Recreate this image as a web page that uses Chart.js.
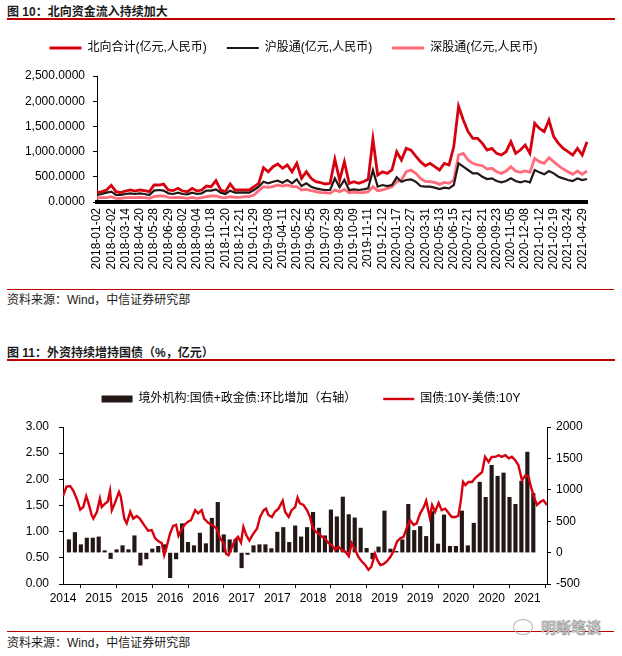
<!DOCTYPE html>
<html lang="zh-CN">
<head>
<meta charset="utf-8">
<title>北向资金与外资持债</title>
<script src="https://cdn.jsdelivr.net/npm/chart.js@4.4.1/dist/chart.umd.min.js"></script>
<style>
  body { margin: 0; background: #fff; }
  .page { position: relative; width: 622px; height: 656px; overflow: hidden;
          font-family: 'Liberation Sans', 'Noto Sans CJK SC', sans-serif; color: #1a1a1a; }
  .page canvas { position: absolute; left: 0; }
  .fig-title { position: absolute; left: 7px; font-size: 12px; font-weight: bold; line-height: 14px; }
  .fig-rule { position: absolute; left: 7px; width: 608px; height: 2px; background: #c00000; }
  .src-rule { position: absolute; left: 7px; width: 607px; height: 1px; background: #c00000; }
  .src { position: absolute; left: 7px; font-size: 12px; line-height: 14px; }
  .mark { position: absolute; left: 513px; top: 619px; font-size: 15px; font-weight: bold; line-height: 18px;
          color: #d0d0d0; -webkit-text-stroke: 0.5px #8a8a8a; white-space: nowrap; }
  .mark-icon { display: inline-block; width: 18px; height: 14px; margin-right: 8px; vertical-align: -2px;
               border: 1.5px solid #b5b5b5; border-radius: 50%; }
</style>
</head>
<body>
<div class="page">
  <div class="fig-title" style="top:5px">图 10：北向资金流入持续加大</div>
  <div class="fig-rule" style="top:18px"></div>
  <canvas id="flowChart" width="622" height="250" style="top:22px"></canvas>
  <div class="src-rule" style="top:289px"></div>
  <div class="src" style="top:293px">资料来源：Wind，中信证券研究部</div>

  <div class="fig-title" style="top:346px">图 11：外资持续增持国债（%，亿元）</div>
  <div class="fig-rule" style="top:359px"></div>
  <canvas id="bondChart" width="622" height="244" style="top:366px"></canvas>
  <div class="src-rule" style="top:631px"></div>
  <div class="src" style="top:636px">资料来源：Wind，中信证券研究部</div>
  <div class="mark"><span class="mark-icon"></span>明晰笔谈</div>
</div>

<script>
// ---- 图10 data: one point about every 7 trading days, labels every 3rd point ----
const flowDates = [
  '2018-01-02', '2018-02-02', '2018-03-14', '2018-04-20', '2018-05-28', '2018-06-29',
  '2018-08-02', '2018-09-04', '2018-10-18', '2018-11-20', '2018-12-21', '2019-01-29',
  '2019-03-08', '2019-04-11', '2019-05-22', '2019-06-25', '2019-07-29', '2019-08-29',
  '2019-10-09', '2019-11-11', '2019-12-12', '2020-01-17', '2020-02-27', '2020-03-31',
  '2020-05-13', '2020-06-15', '2020-07-21', '2020-08-21', '2020-09-23', '2020-11-05',
  '2020-12-08', '2021-01-12', '2021-02-19', '2021-03-24', '2021-04-29'
];

const northTotal = [
  185, 205, 238, 330, 205, 185, 218, 238, 218, 238,
  225, 205, 337, 337, 357, 238, 225, 271, 218, 205,
  271, 218, 238, 317, 304, 423, 238, 205, 357, 238,
  238, 238, 238, 304, 370, 680, 600, 700, 754, 668,
  734, 600, 767, 469, 600, 469, 403, 383, 357, 370,
  850, 436, 800, 370, 403, 370, 403, 449, 1250, 535,
  600, 568, 635, 998, 833, 1064, 1030, 912, 800, 720,
  767, 700, 635, 767, 734, 1100, 1900, 1626, 1395, 1262,
  1262, 1163, 1031, 1064, 965, 932, 998, 1196, 965, 1031,
  1130, 965, 1560, 1461, 1395, 1626, 1296, 1163, 1064, 998,
  932, 1064, 932, 1196
];

const shanghaiConnect = [
  139, 159, 185, 205, 139, 139, 159, 172, 159, 172,
  159, 139, 225, 238, 225, 172, 159, 185, 159, 152,
  185, 159, 172, 225, 225, 251, 185, 159, 225, 185,
  185, 185, 185, 238, 304, 403, 370, 403, 423, 383,
  436, 370, 449, 317, 370, 304, 271, 251, 238, 238,
  469, 291, 440, 238, 251, 238, 251, 271, 630, 304,
  337, 317, 337, 490, 403, 436, 449, 403, 317, 304,
  304, 284, 258, 284, 271, 337, 767, 700, 635, 568,
  568, 502, 456, 469, 416, 390, 416, 469, 416, 390,
  416, 390, 635, 588, 549, 615, 568, 502, 469, 436,
  416, 469, 436, 456
];

const shenzhenConnect = [
  80, 85, 86, 106, 73, 73, 86, 86, 86, 93,
  86, 73, 106, 119, 119, 93, 86, 93, 86, 73,
  93, 73, 86, 106, 119, 119, 93, 86, 106, 93,
  93, 106, 106, 139, 225, 304, 291, 304, 337, 317,
  337, 304, 304, 238, 251, 225, 205, 185, 185, 172,
  238, 205, 250, 185, 198, 185, 185, 205, 304, 225,
  238, 271, 304, 403, 436, 600, 635, 568, 469, 410,
  403, 390, 350, 390, 370, 436, 932, 965, 833, 767,
  734, 720, 654, 668, 601, 568, 615, 700, 615, 588,
  615, 588, 866, 800, 767, 879, 800, 720, 654, 601,
  549, 615, 549, 615
];

// ---- 图11 data ----
const yearTicks = ['2014', '2015', '2015', '2016', '2016', '2017', '2017',
                   '2018', '2018', '2019', '2019', '2020', '2020', '2021'];

// monthly change, 亿元, starting Feb 2014
const holdingChange = [
  205, 320, 126, 232, 232, 250, 30, -95, 47, 110,
  47, 268, -200, -100, 58, 100, 126, -400, -100, 460,
  163, 110, 310, 142, 547, 800, 284, 205, 215, -242,
  -30, 110, 126, 126, 63, 326, 400, 163, 426, 250,
  400, 642, 390, 268, 680, 570, 885, 605, 553, 390,
  68, -100, 90, 663, 58, 20, 205, 768, 353, 416,
  258, 653, 137, 600, 100, 100, 663, 110, 468, 1121,
  880, 1390, 1216, 1268, 880, 768, 1137, 1600, 942
];

// months since Jan 2014
const spreadMonth = [
  0, 0.6, 1.2, 1.7, 2.3, 2.9, 3.4, 3.9, 4.3, 4.8,
  5.1, 5.7, 6.2, 6.5, 7.1, 7.5, 7.9, 8.2, 8.7, 9.4,
  9.7, 10.3, 10.7, 11.3, 11.8, 12.4, 12.9, 13.6, 14.3, 14.9,
  15.5, 16.0, 16.6, 17.0, 17.3, 18.0, 18.5, 19.0, 19.4, 19.9,
  20.4, 21.0, 21.5, 22.2, 22.7, 23.3, 23.7, 24.4, 25.0, 25.8,
  26.4, 27.0, 27.4, 27.8, 28.4, 28.9, 29.4, 29.9, 30.3, 30.8,
  31.3, 31.9, 32.6, 33.1, 33.7, 34.1, 34.5, 35.1, 35.6, 36.2,
  36.9, 37.3, 37.9, 38.4, 39.0, 39.4, 39.8, 40.4, 41.0, 41.5,
  41.9, 42.4, 42.9, 43.5, 44.0, 44.6, 45.2, 45.7, 46.3, 46.8,
  47.4, 48.0, 48.5, 49.1, 49.6, 50.2, 50.8, 51.3, 51.8, 52.4,
  52.8, 53.3, 53.8, 54.4, 55.0, 55.5, 56.1, 56.6, 57.2, 57.8,
  58.3, 58.9, 59.4, 60.0, 60.6, 61.0, 61.6, 62.0, 62.5, 63.1,
  63.6, 64.2, 64.8, 65.3, 65.9, 66.4, 66.8, 67.2, 67.6, 68.1,
  68.7, 69.2, 69.8, 70.4, 70.9, 71.5, 72.0, 72.6, 73.2, 73.7,
  74.3, 74.9, 75.4, 76.0, 76.5, 77.1, 77.7, 78.2, 78.6, 79.1,
  79.6, 80.2, 80.7, 81.3
];

// 国债10Y - 美债10Y, %
const spreadValue = [
  1.68, 1.86, 1.87, 1.79, 1.63, 1.42, 1.47, 1.68, 1.54, 1.32,
  1.25, 1.38, 1.63, 1.47, 1.54, 1.57, 1.78, 1.41, 1.54, 1.76,
  1.67, 1.25, 1.16, 1.38, 1.25, 1.30, 1.25, 1.13, 1.02, 1.03,
  0.87, 0.82, 0.78, 0.55, 0.66, 0.97, 1.11, 1.13, 0.92, 1.04,
  1.13, 1.19, 1.22, 1.41, 1.35, 1.41, 1.25, 1.17, 1.13, 1.06,
  0.87, 0.78, 0.58, 0.55, 0.71, 0.84, 0.90, 0.79, 1.09, 0.93,
  0.83, 0.95, 1.06, 1.28, 1.41, 1.44, 1.32, 1.28, 1.38, 1.44,
  1.59, 1.38, 1.28, 1.41, 1.47, 1.65, 1.54, 1.51, 1.41, 1.28,
  1.09, 1.00, 0.97, 0.90, 0.87, 0.78, 0.74, 0.65, 0.71, 0.65,
  0.62, 0.53, 0.78, 0.65, 0.52, 0.43, 0.36, 0.27, 0.33, 0.58,
  0.46, 0.36, 0.38, 0.43, 0.52, 0.62, 0.81, 0.87, 0.90, 1.09,
  1.22, 1.13, 1.16, 1.35, 1.47, 1.59, 1.28, 1.51, 1.38, 1.55,
  1.41, 1.44, 1.35, 1.28, 1.28, 1.30, 1.57, 1.95, 1.89, 1.95,
  1.95, 2.02, 2.08, 2.14, 2.43, 2.33, 2.43, 2.43, 2.46, 2.43,
  2.46, 2.40, 2.43, 2.36, 2.27, 1.98, 2.08, 2.05, 1.86, 1.67,
  1.51, 1.57, 1.60, 1.51
];

Chart.defaults.font.family = "'Liberation Sans', 'Noto Sans CJK SC', sans-serif";
Chart.defaults.font.size = 12;
Chart.defaults.color = '#000';

// push the plot down a bit from the legend (legend has no margin option)
const legendGap = (gap) => ({
  id: 'legendGap',
  beforeInit(chart) {
    const origFit = chart.legend.fit;
    chart.legend.fit = function fit() {
      origFit.bind(chart.legend)();
      this.height += gap;
    };
  }
});

const byIndex = (a, b) => a.datasetIndex - b.datasetIndex;

// ---------- 图10 ----------
const flowLabels = northTotal.map((_, i) => (i % 3 === 0 ? flowDates[i / 3] || '' : ''));

const lineSeries = (label, data, color, width, order) => ({
  label: label,
  data: data,
  borderColor: color,
  backgroundColor: color,
  borderWidth: width,
  pointRadius: 0,
  pointStyle: 'line',
  tension: 0,
  order: order,
});

new Chart(document.getElementById('flowChart'), {
  type: 'line',
  data: {
    labels: flowLabels,
    datasets: [
      lineSeries('北向合计(亿元,人民币)', northTotal, '#d7000f', 2.8, 1),
      lineSeries('沪股通(亿元,人民币)', shanghaiConnect, '#231815', 2.2, 0),
      lineSeries('深股通(亿元,人民币)', shenzhenConnect, '#ff6b7b', 2.8, 2),
    ],
  },
  options: {
    responsive: false,
    animation: false,
    layout: { padding: { left: 0, right: 35, top: 0, bottom: 0 } },
    plugins: {
      legend: {
        labels: { usePointStyle: true, pointStyleWidth: 32, padding: 20, sort: byIndex },
      },
      tooltip: { enabled: false },
    },
    scales: {
      x: {
        grid: { display: false, drawTicks: false },
        border: { display: true, color: '#000', width: 4 },
        ticks: { autoSkip: false, maxRotation: 90, minRotation: 90, padding: 6 },
        afterFit: (scale) => { scale.height = 70; },
      },
      y: {
        min: 0,
        max: 2500,
        grid: { drawOnChartArea: false, tickLength: 4, color: '#000' },
        border: { color: '#000', width: 1 },
        ticks: {
          stepSize: 500,
          padding: 8,
          callback: (v) => v.toLocaleString('en-US', { minimumFractionDigits: 4, maximumFractionDigits: 4 }),
        },
        afterFit: (scale) => { scale.width = 97; },
      },
    },
  },
  plugins: [legendGap(12)],
});

// ---------- 图11 ----------
new Chart(document.getElementById('bondChart'), {
  type: 'bar',
  data: {
    datasets: [
      {
        type: 'bar',
        label: '境外机构:国债+政金债:环比增加（右轴）',
        data: holdingChange.map((v, i) => ({ x: i + 1, y: v })),
        yAxisID: 'y2',
        backgroundColor: '#231815',
        borderWidth: 0,
        barThickness: 3.5,
        pointStyle: 'rect',
        order: 1,
      },
      {
        type: 'line',
        label: '国债:10Y-美债:10Y',
        data: spreadMonth.map((m, i) => ({ x: m, y: spreadValue[i] })),
        yAxisID: 'y',
        borderColor: '#d7000f',
        backgroundColor: '#d7000f',
        borderWidth: 2.4,
        pointRadius: 0,
        pointStyle: 'line',
        tension: 0,
        order: 0,
      },
    ],
  },
  options: {
    responsive: false,
    animation: false,
    layout: { padding: 0 },
    plugins: {
      legend: {
        labels: { usePointStyle: true, pointStyleWidth: 31, boxHeight: 7, padding: 27, sort: byIndex },
      },
      tooltip: { enabled: false },
    },
    scales: {
      x: {
        type: 'linear',
        min: 0,
        max: 81.3,
        offset: false,
        grid: { drawOnChartArea: false, tickLength: 4, color: '#000' },
        border: { color: '#000', width: 1 },
        ticks: {
          stepSize: 6,
          includeBounds: false,
          autoSkip: false,
          maxRotation: 0,
          padding: 3,
          callback: (v) => yearTicks[Math.round(v / 6)] || '',
        },
        afterFit: (scale) => { scale.height = 26; },
      },
      y: {
        position: 'left',
        min: 0,
        max: 3,
        grid: { drawOnChartArea: false, tickLength: 4, color: '#000' },
        border: { color: '#000', width: 1 },
        ticks: { stepSize: 0.5, padding: 10, callback: (v) => v.toFixed(2) },
        afterFit: (scale) => { scale.width = 63; },
      },
      y2: {
        position: 'right',
        min: -500,
        max: 2000,
        grid: { drawOnChartArea: false, tickLength: 4, color: '#000' },
        border: { color: '#000', width: 1 },
        ticks: { stepSize: 500, padding: 5, callback: (v) => String(v) },
        afterFit: (scale) => { scale.width = 75; },
      },
    },
  },
  plugins: [legendGap(12)],
});
</script>
</body>
</html>
